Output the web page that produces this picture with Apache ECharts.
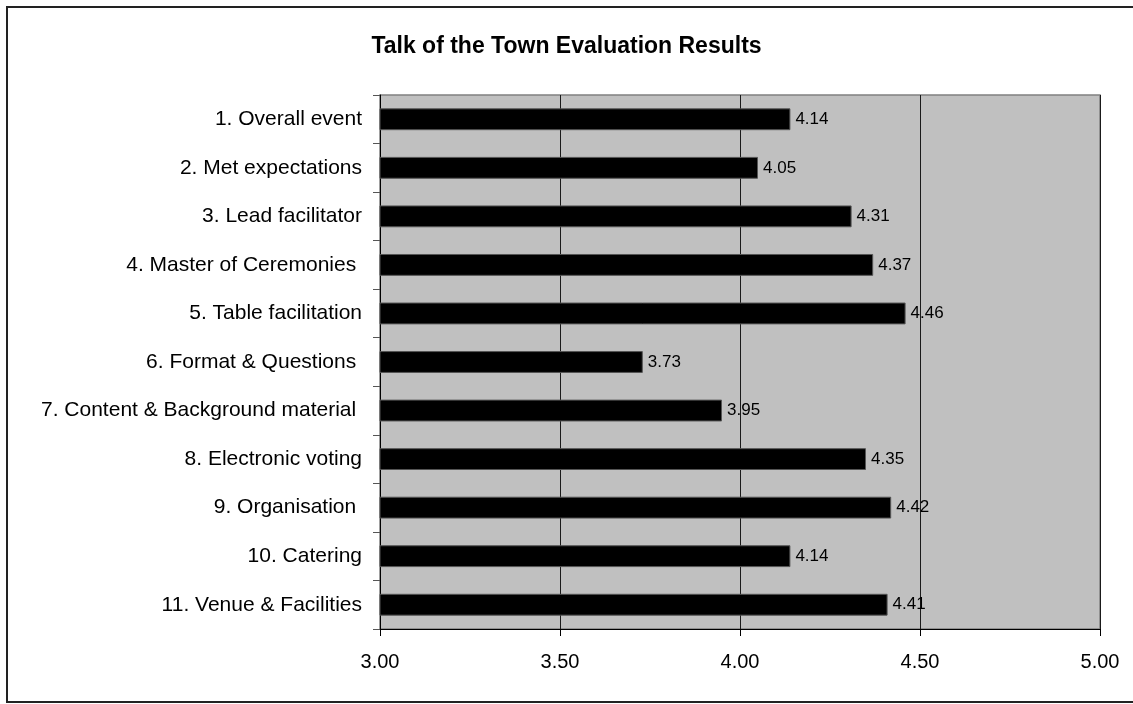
<!DOCTYPE html>
<html>
<head>
<meta charset="utf-8">
<script src="https://cdn.jsdelivr.net/npm/echarts@6/dist/echarts.min.js"></script>
<style>
html,body{margin:0;padding:0;background:#fff;}
#chart{width:1133px;height:704px;}
</style>
</head>
<body>
<div id="chart"></div>
<script>
//数据
var categories = ['1. Overall event', '2. Met expectations', '3. Lead facilitator', '4. Master of Ceremonies ',
    '5. Table facilitation', '6. Format & Questions ', '7. Content & Background material ', '8. Electronic voting',
    '9. Organisation ', '10. Catering', '11. Venue & Facilities'];
var scores = [4.14, 4.05, 4.31, 4.37, 4.46, 3.73, 3.95, 4.35, 4.42, 4.14, 4.41];
var xTicks = [3.0, 3.5, 4.0, 4.5, 5.0];

var chart = echarts.init(document.getElementById('chart'));
var option = {
    backgroundColor: '#fff',
    animation: false,
    title: {
        text: 'Talk of the Town Evaluation Results',
        left: 'center',
        top: 30,
        textStyle: {fontFamily: 'Liberation Sans, Arial', fontSize: 23, fontWeight: 'bold', color: '#000'}
    },
    graphic: [{
        type: 'rect',
        shape: {x: 7, y: 7, width: 1140, height: 695},
        style: {fill: 'none', stroke: '#222', lineWidth: 2},
        z: -1
    }],
    grid: {
        left: 380,
        right: 33,
        top: 95,
        bottom: 75,
        show: true,
        backgroundColor: '#c0c0c0',
        borderColor: '#808080',
        borderWidth: 1.5
    },
    xAxis: {
        type: 'value',
        min: xTicks[0],
        max: xTicks[xTicks.length - 1],
        interval: 0.5,
        axisLine: {show: true, lineStyle: {color: '#000'}},
        axisTick: {show: true, length: 7, lineStyle: {color: '#000'}},
        axisLabel: {
            margin: 23,
            fontFamily: 'Liberation Sans, Arial',
            fontSize: 20,
            color: '#000',
            formatter: function (v) { return v.toFixed(2); }
        },
        splitLine: {show: true, lineStyle: {color: '#1a1a1a', width: 1}}
    },
    yAxis: {
        type: 'category',
        inverse: true,
        data: categories,
        axisLine: {show: true, lineStyle: {color: '#000'}},
        axisTick: {show: true, length: 7, lineStyle: {color: '#555'}},
        axisLabel: {
            margin: 18,
            fontFamily: 'Liberation Sans, Arial',
            fontSize: 21,
            color: '#000'
        },
        splitLine: {show: false}
    },
    series: [{
        type: 'bar',
        data: scores,
        barCategoryGap: '55%',
        itemStyle: {color: '#000', borderColor: '#555', borderWidth: 1},
        label: {
            show: true,
            position: 'right',
            distance: 5,
            fontFamily: 'Liberation Sans, Arial',
            fontSize: 17,
            color: '#000',
            formatter: function (p) { return p.value.toFixed(2); }
        }
    }]
};
chart.setOption(option);
</script>
</body>
</html>
